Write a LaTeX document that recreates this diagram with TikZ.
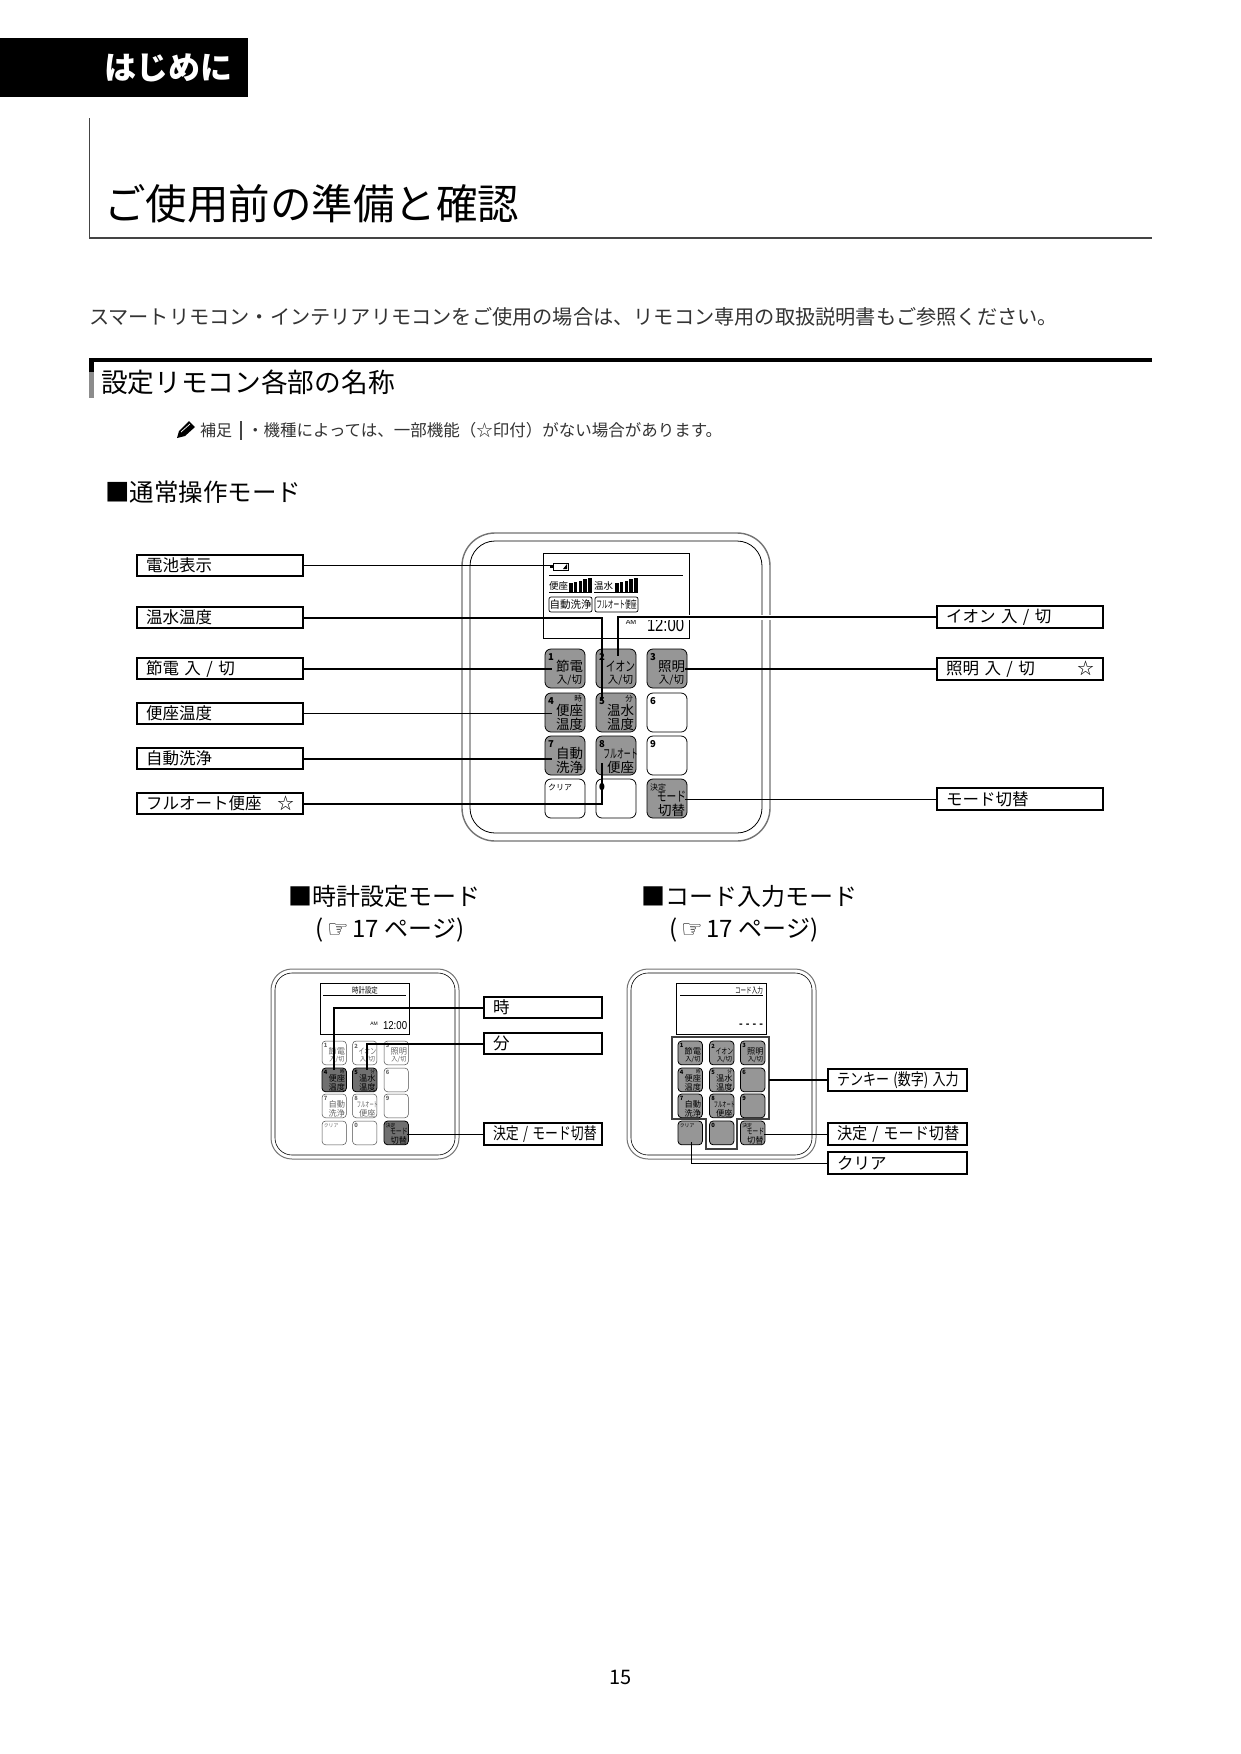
\documentclass[tikz,border=0pt]{standalone}
\usepackage{fontspec}
\usepackage{graphicx}
\setmainfont{Noto Sans CJK JP}
\newfontfamily\dejavu{DejaVu Sans}
\newfontfamily\lib{Liberation Sans}
\usetikzlibrary{calc}
\definecolor{keygray}{HTML}{969696}
\definecolor{keydark}{HTML}{707070}
\definecolor{rulegray}{HTML}{444444}
\newcommand\fs[1]{\fontsize{#1}{#1}\selectfont}
\newcommand\kfs[1]{\fontsize{\fpeval{#1*\kscale}}{\fpeval{#1*\kscale}}\selectfont}
\def\kscale{1}
\tikzset{
  txt/.style={inner sep=0pt,outer sep=0pt,anchor=west},
  ctxt/.style={inner sep=0pt,outer sep=0pt,anchor=center},
  lblbox/.style={draw=black,line width=1.5pt,inner ysep=0pt,inner xsep=9pt,align=left,font=\fs{16.5}},
  thin leader/.style={draw=black,line width=1pt},
  thick leader/.style={draw=black,line width=2pt},
  keyN/.style={draw=black,line width=.8pt,fill=keygray},
  keyNt/.style={text=black},
  keyW/.style={draw=black,line width=.8pt,fill=white},
  keyWt/.style={text=black},
  keyF/.style={draw=black!70,line width=.5pt,fill=white},
  keyFt/.style={text=black!60},
  keyD/.style={draw=black,line width=.8pt,fill=keydark},
  keyDt/.style={text=black},
  outerbody/.style={draw=black!55,line width=1.4pt},
  innerbody/.style={draw=black,line width=.8pt},
  lcd/.style={draw=black,line width=1pt,fill=white},
}
% name, x1,y1,x2,y2,text
\newcommand\Lbl[6]{\node[lblbox,text width={(#4-#2-18)*1pt},minimum height={(#5-#3)*1pt}] (#1) at ({(#2+#4)/2},{(#3+#5)/2}) {\makebox[\linewidth][l]{#6}};}
% name,x,y,style,corner,upper-right,line1,line2
\newcommand\Key[8]{%
  \node[#4,anchor=north west,inner sep=0pt,outer sep=0pt,rounded corners={6pt*\kscale},minimum width={40pt*\kscale},minimum height={39pt*\kscale}] (#1) at (#2,#3) {};
  \node[ctxt,anchor=west,#4t,font=\bfseries\kfs{9.5}] (#1c) at ({#2+3*\kscale},{#3+8*\kscale}) {#5};
  \node[ctxt,#4t,font=\kfs{7.5}] (#1u) at ({#2+33*\kscale},{#3+5.5*\kscale}) {#6};
  \node[ctxt,#4t,font=\kfs{13.5}] (#1a) at ({#2+24.5*\kscale},{#3+17.5*\kscale}) {#7};
  \node[ctxt,#4t,font=\kfs{13.5}] (#1b) at ({#2+24.5*\kscale},{#3+31*\kscale}) {#8};
}
\newcommand\setk[2]{\tikzset{kk#1/.style={#2},kk#1t/.style={#2t}}}
\newcommand\setall[1]{\setk{1}{#1}\setk{2}{#1}\setk{3}{#1}\setk{4}{#1}\setk{5}{#1}\setk{6}{#1}\setk{7}{#1}\setk{8}{#1}\setk{9}{#1}\setk{c}{#1}\setk{0}{#1}\setk{d}{#1}}
% prefix, c1,c2,c3, r1,r2,r3,r4, scale
\newcommand\Pad[9]{\def\kscale{#9}%
  \Key{#1k1}{#2}{#5}{kk1}{1}{}{節電}{\kfs{10.5}入/切}
  \Key{#1k2}{#3}{#5}{kk2}{2}{}{\scalebox{.72}[1]{イオン}}{\kfs{10.5}入/切}
  \Key{#1k3}{#4}{#5}{kk3}{3}{}{照明}{\kfs{10.5}入/切}
  \Key{#1k4}{#2}{#6}{kk4}{4}{時}{便座}{温度}
  \Key{#1k5}{#3}{#6}{kk5}{5}{分}{温水}{温度}
  \Key{#1k6}{#4}{#6}{kk6}{6}{}{}{}
  \Key{#1k7}{#2}{#7}{kk7}{7}{}{自動}{洗浄}
  \Key{#1k8}{#3}{#7}{kk8}{8}{}{\scalebox{.55}[1]{\kfs{12.5}フルオート}}{便座}
  \Key{#1k9}{#4}{#7}{kk9}{9}{}{}{}
  \Key{#1kc}{#2}{#8}{kkc}{\mdseries\kfs{8}クリア}{}{}{}
  \Key{#1k0}{#3}{#8}{kk0}{0}{}{}{}
  \Key{#1kd}{#4}{#8}{kkd}{\mdseries\kfs{8}決定}{}{\scalebox{.72}[1]{モード}}{切替}
}
\begin{document}
\begin{tikzpicture}[x=1pt,y=-1pt]
\useasboundingbox (0,0) rectangle (1240,1754);
\fill[white] (0,0) rectangle (1240,1754);
% header
\fill[black] (0,38) rectangle (248,97);
\node[ctxt,text=white,font=\bfseries\fs{32}] (hajime) at (168,68) {はじめに};
\draw[rulegray,line width=1.4pt] (89.5,118) -- (89.5,238) -- (1152,238);
\node[txt,font=\fs{41.5}] (title) at (104,204) {ご使用前の準備と確認};
\node[txt,font=\fs{20.2},text=black!80] (intro) at (89,317) {スマートリモコン・インテリアリモコンをご使用の場合は、リモコン専用の取扱説明書もご参照ください。};
% section
\fill[black] (89,358) rectangle (1152,362);
\fill[black] (89,358) rectangle (94,372);
\fill[black!45] (89,372) rectangle (94,398);
\node[txt,font=\fs{26.7}] (section) at (101,382) {設定リモコン各部の名称};
% note
\fill[black] (177,438) -- (179,431) -- (189,421) -- (195,427) -- (185,436) -- cycle;
\draw[white,line width=.7pt] (181,432) -- (190,424);
\node[txt,font=\fs{16},text=black!80] (hosoku) at (200,430) {補足};
\draw[rulegray,line width=2pt] (241,421) -- (241,440);
\node[txt,font=\fs{16.5},text=black!80] (note) at (247,430) {・機種によっては、一部機能（☆印付）がない場合があります。};
\node[txt,font=\fs{24.5}] (mode1) at (105,492) {■通常操作モード};
% main remote
\draw[outerbody,rounded corners=33pt] (462,533) rectangle (770,841);
\draw[innerbody,rounded corners=25pt] (470,541) rectangle (762,833);
\node[lcd,anchor=north west,inner sep=0pt,minimum width=146pt,minimum height=85pt] (lcdmain) at (543,553) {};
\draw[black,line width=.8pt] (549,575) -- (683,575);
\draw[black,line width=.7pt] (553,563) rectangle (568,570);
\fill[black] (550,565) rectangle (553,568);
\fill[black] (567,564) -- (567,569) -- (563,569) -- cycle;
\node[ctxt,font=\fs{9.5}] (zaben) at (558.5,585.5) {便座};
\node[ctxt,font=\fs{9.5}] (onsui) at (603.5,585.5) {温水};
\draw[black,line width=.6pt] (549,592) -- (592,592) (594,592) -- (638,592);
\foreach \i/\t in {0/582.5,1/581.5,2/580.5,3/579,4/578} {
  \fill[black] ({569+\i*4.8},\t) rectangle ({572.5+\i*4.8},592);
  \fill[black] ({615+\i*4.8},\t) rectangle ({618.5+\i*4.8},592);
}
\node[draw=black,line width=.7pt,rounded corners=2pt,inner sep=0pt,minimum width=43pt,minimum height=15pt,font=\fs{10.5}] (tag1) at (570.5,604.5) {自動洗浄};
\node[draw=black,line width=.7pt,rounded corners=2pt,inner sep=0pt,minimum width=43pt,minimum height=15pt,font=\fs{10.5}] (tag2) at (616.5,604.5) {\scalebox{.55}[1]{フルオート便座}};
\node[ctxt,font=\lib\fs{7}] (am) at (631,622) {AM};
\node[txt,font=\lib\fs{19}] (clock) at (647,625) {\scalebox{.78}[1]{12:00}};
\setall{keyN}\setk{6}{keyW}\setk{9}{keyW}\setk{c}{keyW}\setk{0}{keyW}
\Pad{m}{545}{596}{647}{649}{693}{736}{779}{1}
% left labels
\Lbl{l1}{137}{555}{303}{576}{電池表示}
\Lbl{l2}{137}{607}{303}{628}{温水温度}
\Lbl{l3}{137}{658}{303}{679}{節電 入 / 切}
\Lbl{l4}{137}{703}{303}{724}{便座温度}
\Lbl{l5}{137}{748}{303}{769}{自動洗浄}
\Lbl{l6}{137}{793}{303}{814}{フルオート便座\hfill ☆}
\Lbl{r1}{937}{606}{1103}{628}{イオン 入 / 切}
\Lbl{r2}{937}{658}{1103}{680}{照明 入 / 切\hfill ☆}
\Lbl{r3}{937}{788}{1103}{810}{モード切替}
% main leaders
\coordinate (bat) at (550,566);
\coordinate (e1) at ([xshift=7pt]mk1.west);
\coordinate (e4) at ([xshift=7pt]mk4.west);
\coordinate (e7) at ([xshift=7pt]mk7.west);
\coordinate (e5) at ([shift={(6pt,-7pt)}]mk5.north west);
\coordinate (e8) at ([shift={(6pt,-27pt)}]mk8.north west);
\coordinate (e2) at ([shift={(22pt,-7pt)}]mk2.north west);
\coordinate (e3) at ([xshift=-2pt]mk3.east);
\coordinate (ed) at ([xshift=-2pt]mkd.east);
\draw[thin leader] (l1.east) -- (l1.east -| bat);
\draw[thick leader] (l2.east) -| (e5);
\draw[thick leader] (l3.east) -- (l3.east -| e1);
\draw[thin leader] (l4.east) -- (l4.east -| e4);
\draw[thick leader] (l5.east) -- (l5.east -| e7);
\draw[thick leader] (l6.east) -| (e8);
\draw[white,line width=5pt] (r1.west) -- (r1.west -| e2);
\draw[thick leader] (r1.west) -| (e2);
\draw[thick leader] (r2.west) -- (r2.west -| e3);
\draw[thin leader] (r3.west) -- (r3.west -| ed);
% mode titles
\node[txt,font=\fs{24}] (mode2) at (288,896) {■時計設定モード};
\node[txt,font=\fs{24}] (ref2) at (315,930) {(\,{\dejavu ☞}\,17 ページ)};
\node[txt,font=\fs{24}] (mode3) at (641,896) {■コード入力モード};
\node[txt,font=\fs{24}] (ref3) at (669,930) {(\,{\dejavu ☞}\,17 ページ)};
% clock remote
\draw[outerbody,line width=1pt,rounded corners=21pt] (271,969) rectangle (459,1159);
\draw[innerbody,line width=.6pt,rounded corners=17pt] (275,973) rectangle (455,1155);
\node[lcd,anchor=north west,inner sep=0pt,minimum width=89pt,minimum height=51pt] (lcdc) at (320,983) {};
\draw[black,line width=.6pt] (323,995) -- (406,995);
\node[ctxt,font=\fs{8}] (clockhd) at (365,990) {\scalebox{.8}[1]{時計設定}};
\node[ctxt,font=\lib\fs{5}] (amc) at (374,1024) {AM};
\node[txt,font=\lib\fs{11.5}] (clockc) at (383,1026) {\scalebox{.84}[1]{12:00}};
\setall{keyF}\setk{4}{keyD}\setk{5}{keyD}\setk{d}{keyD}
\Pad{c}{322}{352.5}{384}{1041}{1068}{1094}{1121}{.61}
\Lbl{cl1}{484}{997}{602}{1018}{時}
\Lbl{cl2}{484}{1033}{602}{1054}{分}
\Lbl{cl3}{484}{1123}{602}{1145}{\scalebox{.78}[1]{決定 / モード切替}}
\coordinate (ce4) at ([shift={(12pt,-2pt)}]ck4.north west);
\coordinate (ce5) at ([shift={(14pt,-2pt)}]ck5.north west);
\coordinate (ced) at ([xshift=-1pt]ckd.east);
\draw[thick leader] (cl1.west) -| (ce4);
\draw[thick leader] (cl2.west) -| (ce5);
\draw[thin leader] (cl3.west) -- (cl3.west -| ced);
% code remote
\draw[outerbody,line width=1pt,rounded corners=21pt] (627,969) rectangle (816,1159);
\draw[innerbody,line width=.6pt,rounded corners=17pt] (631,973) rectangle (812,1155);
\node[lcd,anchor=north west,inner sep=0pt,minimum width=90pt,minimum height=51pt] (lcdk) at (676,983) {};
\draw[black,line width=.6pt] (680,995) -- (763,995);
\node[ctxt,anchor=east,font=\fs{8}] (codehd) at (763,990) {\scalebox{.7}[1]{コード入力}};
\node[ctxt,anchor=east,font=\lib\bfseries\fs{11}] (dashes) at (763,1026) {- - - -};
\setall{keyN}
\Pad{k}{678}{709.5}{740.5}{1041}{1068}{1094}{1121}{.61}
\draw[black!75,line width=1.8pt] (672,1037) -- (769,1037) -- (769,1119) -- (737,1119) -- (737,1149) -- (706,1149) -- (706,1119) -- (672,1119) -- cycle;
\coordinate (pad) at (769,1080);
\Lbl{kl1}{828}{1069}{967}{1091}{\scalebox{.79}[1]{テンキー (数字) 入力}}
\Lbl{kl2}{828}{1123}{967}{1145}{\scalebox{.92}[1]{決定 / モード切替}}
\Lbl{kl3}{828}{1152}{967}{1174}{クリア}
\coordinate (ked) at ([xshift=-1pt]kkd.east);
\coordinate (kec) at ([shift={(13pt,-21pt)}]kkc.north west);
\draw[thick leader] (kl1.west) -- (kl1.west -| pad);
\draw[thin leader] (kl2.west) -- (kl2.west -| ked);
\draw[thin leader] (kl3.west) -| (kec);
% page number
\node[ctxt,font=\fs{20}] (pageno) at (620.5,1677) {15};
\end{tikzpicture}
\end{document}
